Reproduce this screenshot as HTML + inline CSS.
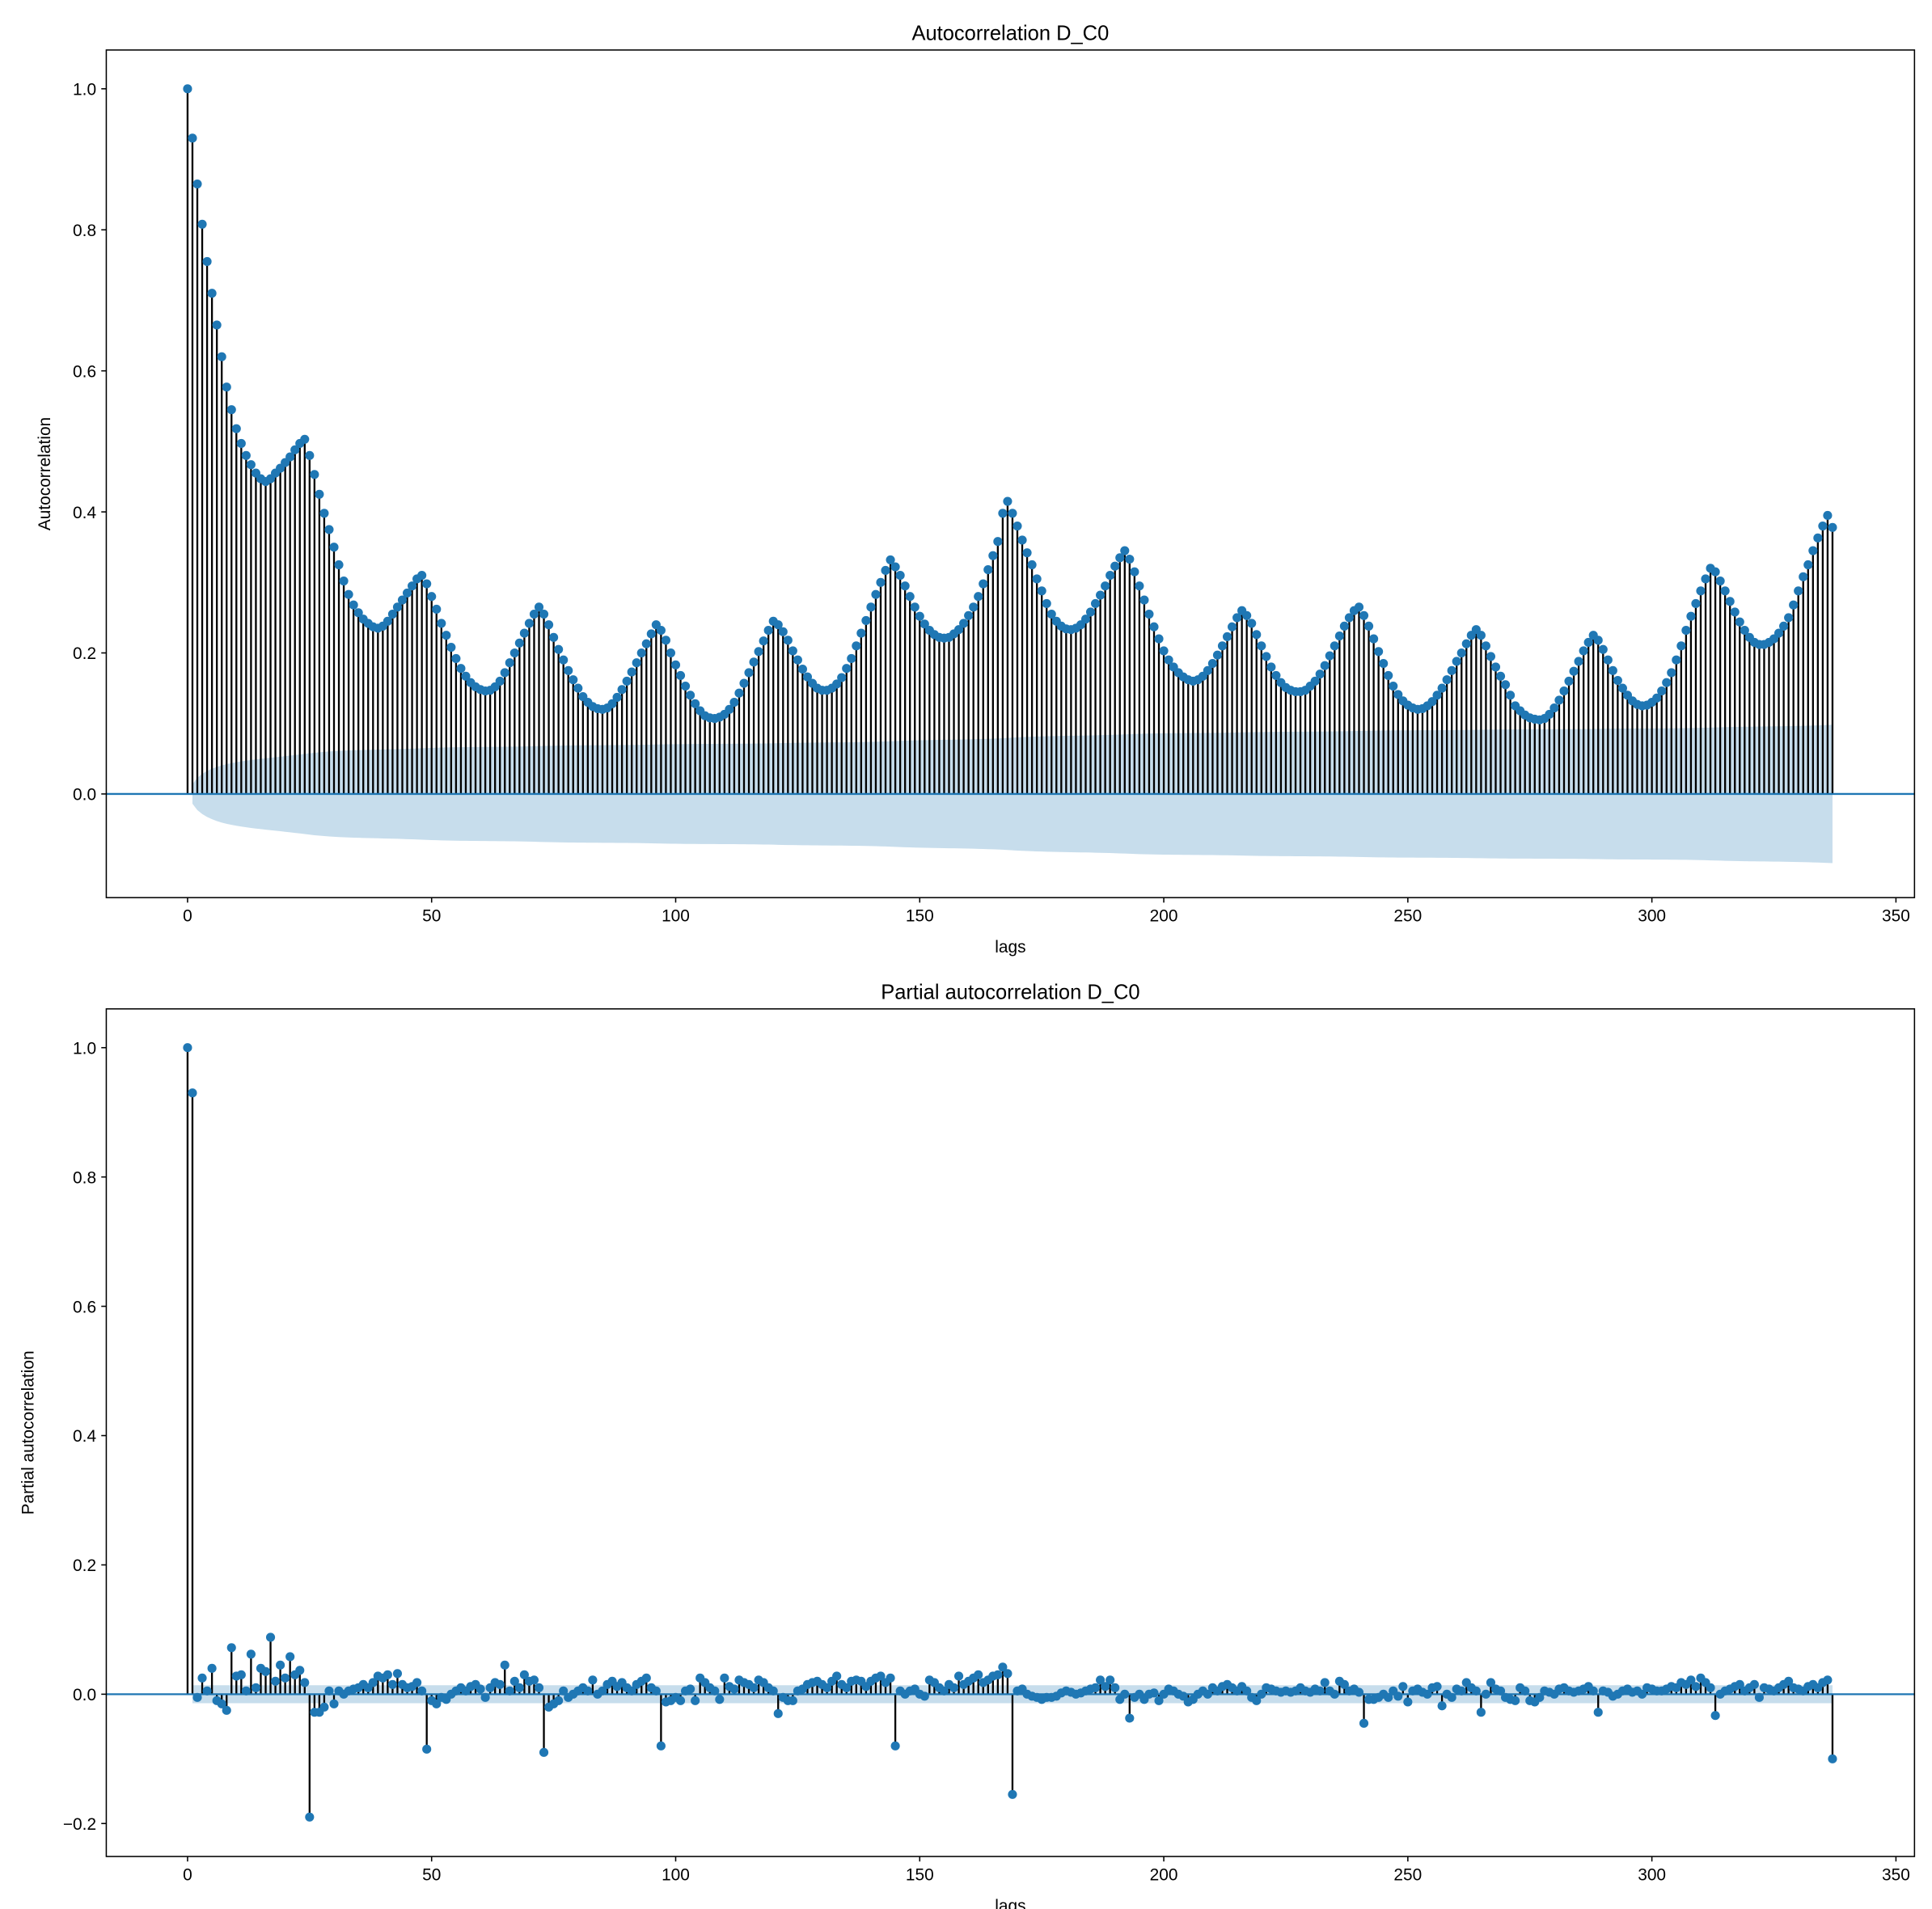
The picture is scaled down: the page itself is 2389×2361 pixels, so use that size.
<!DOCTYPE html>
<html><head><meta charset="utf-8"><style>
html,body{margin:0;padding:0;background:#fff}
svg{display:block}
text{font-family:"Liberation Sans","DejaVu Sans",sans-serif;fill:#000}
</style></head><body>
<svg id="fig" width="2389" height="2361" viewBox="0 0 1545 1527" preserveAspectRatio="none" xmlns="http://www.w3.org/2000/svg"></svg>
<script>
const acfValues=[1.0,.93,.865,.808,.755,.71,.665,.62,.577,.545,.518,.497,.48,.467,.455,.447,.443,.447,.455,.462,.47,.478,.488,.497,.503,
.48,.453,.425,.398,.375,.35,.325,.302,.283,.268,.257,.248,.242,.237,.235,.238,.245,.255,.265,.275,.285,.295,.305,.31,
.298,.28,.262,.242,.225,.208,.192,.178,.167,.158,.152,.148,.146,.147,.152,.16,.172,.186,.2,.214,.228,.242,.255,.265,
.255,.24,.222,.205,.19,.175,.162,.15,.138,.13,.124,.121,.12,.122,.128,.137,.148,.16,.173,.186,.2,.213,.227,.24,
.232,.218,.2,.183,.168,.153,.14,.128,.118,.111,.108,.107,.109,.113,.12,.13,.143,.157,.172,.187,.202,.217,.232,.245,
.24,.23,.218,.203,.19,.177,.166,.157,.15,.147,.147,.15,.156,.165,.178,.192,.21,.228,.246,.265,.283,.3,.317,.332,
.322,.31,.295,.28,.265,.252,.241,.232,.226,.222,.221,.222,.227,.233,.242,.253,.265,.28,.298,.318,.338,.358,.398,.415,
.398,.38,.36,.342,.325,.305,.288,.27,.255,.245,.238,.234,.233,.235,.24,.248,.258,.27,.282,.295,.31,.323,.335,.345,
.333,.315,.295,.275,.255,.237,.22,.203,.19,.18,.172,.166,.162,.16,.162,.167,.175,.185,.197,.21,.223,.237,.25,.26,
.253,.242,.226,.21,.195,.18,.168,.158,.151,.147,.145,.145,.147,.153,.16,.17,.182,.196,.21,.224,.238,.25,.26,.265,
.253,.238,.22,.202,.185,.168,.153,.141,.132,.126,.122,.12,.121,.125,.131,.14,.15,.162,.175,.188,.2,.213,.225,.233,
.225,.21,.195,.18,.167,.155,.14,.125,.118,.112,.108,.106,.105,.107,.113,.122,.133,.146,.16,.174,.188,.203,.215,.225,
.218,.205,.19,.175,.161,.15,.14,.132,.127,.125,.126,.13,.136,.146,.158,.172,.19,.21,.232,.252,.27,.288,.305,.32,
.315,.302,.288,.273,.258,.244,.232,.222,.215,.212,.212,.215,.22,.228,.238,.25,.268,.288,.308,.325,.345,.363,.38,.395,
.378];
const pacfValues=[1.0,.93,-.005,.025,.005,.04,-.01,-.015,-.025,.072,.028,.03,.005,.062,.01,.04,.035,.088,.02,.045,.025,.058,.03,.037,.018,
-.19,-.028,-.028,-.02,.005,-.015,.005,0,.005,.008,.01,.015,.01,.018,.028,.025,.03,.015,.032,.015,.01,.012,.018,.005,
-.085,-.01,-.015,-.005,-.008,0,.005,.01,.005,.012,.015,.008,-.005,.01,.018,.015,.045,.005,.02,.01,.03,.02,.022,.01,
-.09,-.02,-.015,-.01,.005,-.005,0,.005,.01,.005,.022,0,.005,.015,.02,.012,.018,.01,.005,.015,.02,.025,.01,.005,
-.08,-.012,-.01,-.005,-.01,.005,.008,-.01,.025,.018,.01,.005,-.008,.025,.012,.008,.022,.018,.015,.01,.022,.018,.01,.005,
-.03,-.005,-.01,-.01,.005,.008,.015,.018,.02,.015,.01,.02,.028,.015,.01,.02,.022,.02,.012,.02,.025,.028,.018,.025,
-.08,.005,0,.005,.008,0,-.003,.022,.018,.01,.005,.015,.01,.028,.015,.02,.025,.03,.018,.022,.028,.03,.042,.032,
-.155,.005,.008,0,-.003,-.005,-.008,-.005,-.005,-.003,.002,.005,.003,0,.002,.005,.008,.01,.022,.012,.022,.01,-.008,0,
-.037,-.005,0,-.008,0,.002,-.01,0,.008,.005,0,-.003,-.012,-.008,0,.005,0,.01,.005,.012,.015,.01,.005,.012,
.005,-.005,-.01,0,.01,.008,.005,.003,.005,.003,.005,.01,.005,.003,.008,.005,.018,.005,0,.02,.015,.005,.008,.003,
-.045,-.008,-.008,-.005,0,-.005,.005,-.003,.012,-.012,.005,.008,.003,0,.01,.012,-.018,0,-.005,.008,.005,.018,.01,.005,
-.028,0,.018,.008,.005,-.005,-.008,-.01,.01,.005,-.01,-.012,-.005,.005,.003,0,.008,.01,.005,.003,.005,.008,.012,.005,
-.028,.005,.003,-.003,0,.005,.008,.003,.005,0,.01,.008,.005,.005,.008,.012,.01,.018,.015,.022,.012,.025,.018,.01,
-.033,0,.005,.008,.012,.015,.005,.01,.015,-.005,.01,.008,.005,.01,.015,.02,.01,.008,.005,.012,.015,.01,.018,.022,
-.1];
const xTicks=[0,50,100,150,200,250,300,350];
const acfYTicks=[0.0,0.2,0.4,0.6,0.8,1.0];
const pacfYTicks=[-0.2,0.0,0.2,0.4,0.6,0.8,1.0];
const nObs=20000;

const NS='http://www.w3.org/2000/svg';
const svg=document.getElementById('fig');
function mk(tag,attrs,parent){const e=document.createElementNS(NS,tag);for(const k in attrs)e.setAttribute(k,attrs[k]);(parent||svg).appendChild(e);return e;}
const BLUE='#1f77b4';

function drawPanel(opt){
  const {L,R,T,B,xmin,xmax,ymin,ymax,vals,band,ticks,title,ylabel,name}=opt;
  const g=mk('g',{});
  
  
  const X=v=>L+(v-xmin)/(xmax-xmin)*(R-L);
  const Y=v=>B-(v-ymin)/(ymax-ymin)*(B-T);
  // band
  let d='M'+X(1)+','+Y(band[1]);
  for(let k=2;k<vals.length;k++) d+='L'+X(k)+','+Y(band[k]);
  for(let k=vals.length-1;k>=1;k--) d+='L'+X(k)+','+Y(-band[k]);
  d+='Z';
  const bp=mk('path',{d:d,fill:BLUE,'fill-opacity':0.25,stroke:'none'},g);
  
  
  // stems
  const sg=mk('g',{stroke:'#000','stroke-width':1.5},g);
  
  
  vals.forEach((v,k)=>{const l=mk('line',{x1:X(k),x2:X(k),y1:Y(0),y2:Y(v)},sg);
    
    });
  // zero line
  const zl=mk('line',{x1:L,x2:R,y1:Y(0),y2:Y(0),stroke:BLUE,'stroke-width':1.5},g);
  
  
  // markers
  const mg=mk('g',{fill:BLUE},g);
  
  
  vals.forEach((v,k)=>{const c=mk('circle',{cx:X(k),cy:Y(v),r:3.6},mg);
    
    });
  // frame
  const fr=mk('rect',{x:L,y:T,width:R-L,height:B-T,fill:'none',stroke:'#000','stroke-width':1},g);
  
  
  xTicks.forEach(t=>{
    const x=X(t);
    const tl=mk('line',{x1:x,x2:x,y1:B,y2:B+4,stroke:'#000','stroke-width':1},g);
    
    
    const tx=mk('text',{x:x,y:B+19,'text-anchor':'middle','font-size':13.5},g);
    tx.textContent=String(t);
    
    
  });
  ticks.forEach(t=>{
    const y=Y(t);
    const tl=mk('line',{x1:L-4,x2:L,y1:y,y2:y,stroke:'#000','stroke-width':1},g);
    
    
    const tx=mk('text',{x:L-8,y:y+5,'text-anchor':'end','font-size':13.5},g);
    tx.textContent=(t<0?'\u2212':'')+Math.abs(t).toFixed(1);
    
    
  });
  const ti=mk('text',{x:(L+R)/2,y:T-8,'text-anchor':'middle','font-size':16.5},g);
  ti.textContent=title;
  
  
  const xl=mk('text',{x:(L+R)/2,y:B+44,'text-anchor':'middle','font-size':13.5},g);
  xl.textContent='lags';
  
  
  const cy=(T+B)/2;
  const yl=mk('text',{x:opt.ylx,y:cy,'text-anchor':'middle','font-size':13.5,transform:'rotate(-90 '+opt.ylx+' '+cy+')'},g);
  yl.textContent=ylabel;
  
  
}

// Bartlett band for ACF
const acfBand=[0];
let s=0;
for(let k=1;k<acfValues.length;k++){acfBand.push(1.96*Math.sqrt((1+2*s)/nObs));s+=acfValues[k]*acfValues[k];}
const pacfBand=pacfValues.map(()=>1.96/Math.sqrt(nObs));

drawPanel({L:85,R:1531,T:40,B:718,xmin:-16.65,xmax:353.8,ymin:-0.147,ymax:1.055,vals:acfValues,band:acfBand,ticks:acfYTicks,title:'Autocorrelation D_C0',ylabel:'Autocorrelation',name:'acf-chart',ylx:40});
drawPanel({L:85,R:1531,T:807,B:1485,xmin:-16.65,xmax:353.8,ymin:-0.251,ymax:1.06,vals:pacfValues,band:pacfBand,ticks:pacfYTicks,title:'Partial autocorrelation D_C0',ylabel:'Partial autocorrelation',name:'pacf-chart',ylx:27});
</script>
</body></html>
